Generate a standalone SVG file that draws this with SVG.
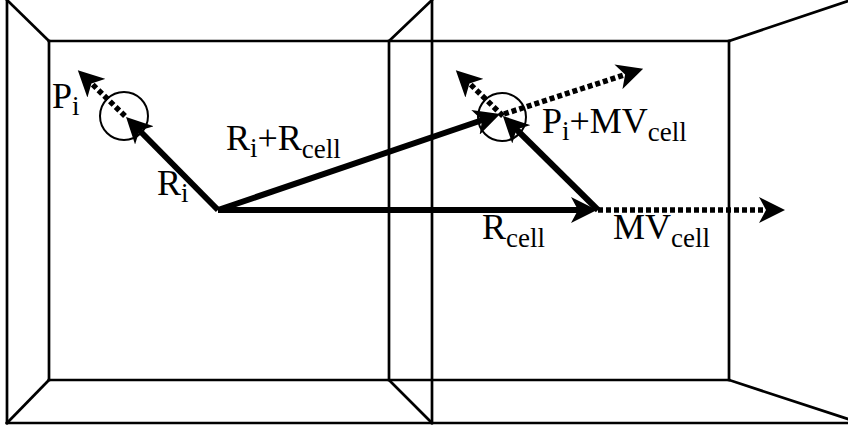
<svg xmlns="http://www.w3.org/2000/svg" width="848" height="430" viewBox="0 0 848 430">
<style>
.frame{stroke:#000;stroke-width:2.7;fill:none;stroke-linecap:square}
.solid{stroke:#000;stroke-width:6;fill:none}
.dot{stroke:#000;stroke-width:5.5;fill:none;stroke-dasharray:5 3}
.ring{stroke:#000;stroke-width:2;fill:none}
text{font-family:"Liberation Serif","Times New Roman",serif;font-size:36px;fill:#000}
.sub{font-size:27px}
</style>
<defs>
<marker id="ah" viewBox="0 0 26 26" refX="9" refY="13" markerWidth="26" markerHeight="26" markerUnits="userSpaceOnUse" orient="auto">
<path d="M0,0 L26,13 L0,26 L7,13 Z" fill="#000"/>
</marker>
</defs>
<rect width="848" height="430" fill="#fff"/>
<g id="frame" class="frame">
<line x1="7" y1="0" x2="7" y2="423"/>
<line x1="432" y1="0" x2="432" y2="423"/>
<line x1="7" y1="423" x2="848" y2="423"/>
<line x1="49" y1="41" x2="729" y2="41"/>
<line x1="49" y1="380" x2="729" y2="380"/>
<line x1="49" y1="41" x2="49" y2="380"/>
<line x1="389" y1="41" x2="389" y2="380"/>
<line x1="729" y1="41" x2="729" y2="380"/>
<line x1="7" y1="0" x2="49" y2="41"/>
<line x1="7" y1="423" x2="49" y2="380"/>
<line x1="432" y1="0" x2="389" y2="41"/>
<line x1="389" y1="380" x2="432" y2="423"/>
<line x1="729" y1="41" x2="848" y2="1"/>
<line x1="729" y1="380" x2="848" y2="419"/>
</g>
<g id="particles">
<circle id="p-left" class="ring" cx="124" cy="116" r="24"/>
<circle id="p-right" class="ring" cx="502" cy="117" r="24"/>
</g>
<g id="connectors">
<line class="solid" x1="218" y1="210" x2="138" y2="129" marker-end="url(#ah)"/>
<line class="dot" x1="125" y1="116" x2="90" y2="82" marker-end="url(#ah)"/>
<line class="solid" x1="218" y1="210" x2="580" y2="210" marker-end="url(#ah)"/>
<line class="dot" x1="598" y1="210" x2="768" y2="210" marker-end="url(#ah)"/>
<line class="solid" x1="218" y1="210" x2="484" y2="119.5" marker-end="url(#ah)"/>
<line class="solid" x1="598" y1="210" x2="515" y2="128" marker-end="url(#ah)"/>
<line class="dot" x1="503" y1="116" x2="468" y2="82" marker-end="url(#ah)"/>
<line class="dot" x1="504" y1="114" x2="627" y2="74" marker-end="url(#ah)"/>
</g>
<g id="labels">
<text x="52" y="108">P<tspan class="sub" dy="7">i</tspan></text>
<text x="157" y="195">R<tspan class="sub" dy="7">i</tspan></text>
<text x="226" y="150">R<tspan class="sub" dy="7">i</tspan><tspan dy="-7">+R</tspan><tspan class="sub" dy="8">cell</tspan></text>
<text x="542" y="133">P<tspan class="sub" dy="7">i</tspan><tspan dy="-7">+MV</tspan><tspan class="sub" dy="8">cell</tspan></text>
<text x="482" y="239">R<tspan class="sub" dy="8">cell</tspan></text>
<text x="613" y="239">MV<tspan class="sub" dy="8">cell</tspan></text>
</g>
</svg>
